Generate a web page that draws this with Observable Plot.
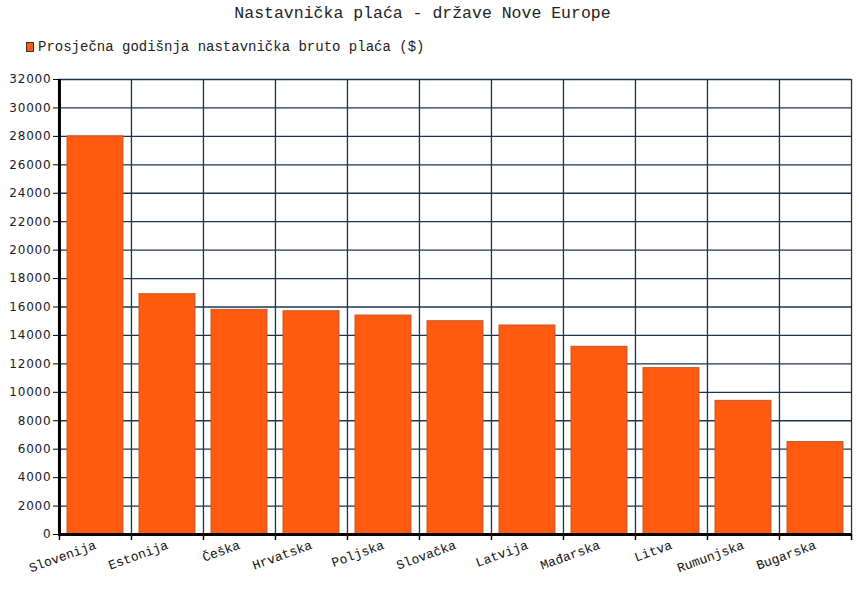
<!DOCTYPE html>
<html>
<head>
<meta charset="utf-8">
<script src="https://cdn.jsdelivr.net/npm/d3@7"></script>
<script src="https://cdn.jsdelivr.net/npm/@observablehq/plot@0.6"></script>
<style>
  html, body { margin: 0; padding: 0; background: #fff; }
  body { width: 859px; height: 589px; position: relative; overflow: hidden; }
  #title { position: absolute; left: 0; top: 4px; width: 845px; text-align: center;
    font-family: "Liberation Mono", monospace; font-size: 16.5px; color: #222; }
  #legend { position: absolute; left: 26px; top: 39px; font-family: "Liberation Mono", monospace;
    font-size: 14px; color: #222; display: flex; align-items: center; }
  #legend .sw { width: 6px; height: 8px; background: #ff5a0f; border: 1px solid #333; margin-right: 4px; }
  #chart { position: absolute; left: 0; top: 60px; }
  #chart g[aria-label="y-axis tick label"] text { letter-spacing: 0.8px; }
</style>
</head>
<body>
<div id="title"></div>
<div id="legend"><span class="sw"></span><span id="legtext"></span></div>
<div id="chart"></div>
<script>
const title = "Nastavnička plaća - države Nove Europe";
const seriesName = "Prosječna godišnja nastavnička bruto plaća ($)";
const countries = ["Slovenija", "Estonija", "Češka", "Hrvatska", "Poljska", "Slovačka", "Latvija", "Mađarska", "Litva", "Rumunjska", "Bugarska"];
const salaries = [28000, 16900, 15800, 15700, 15400, 15000, 14700, 13200, 11700, 9400, 6500];
const yTicks = [0, 2000, 4000, 6000, 8000, 10000, 12000, 14000, 16000, 18000, 20000, 22000, 24000, 26000, 28000, 30000, 32000];

document.getElementById("title").textContent = title;
document.getElementById("legtext").textContent = seriesName;

const data = countries.map((c, i) => ({country: c, value: salaries[i]}));

const W = 859, H = 529, mL = 58, mR = 8, mT = 19, mB = 55;
const bw = (W - mL - mR) / countries.length;
const grid = "#1b3550";

const chart = Plot.plot({
  width: W, height: H,
  marginLeft: mL, marginRight: mR, marginTop: mT, marginBottom: mB,
  style: {background: "transparent", overflow: "visible"},
  x: {type: "band", domain: countries, padding: 0},
  y: {domain: [0, 32000]},
  marks: [
    Plot.gridY(yTicks, {stroke: grid, strokeOpacity: 1, strokeWidth: 1.3}),
    Plot.ruleX(countries, {x: d => d, dx: -bw / 2, stroke: grid, strokeWidth: 1.3}),
    Plot.ruleX([countries[countries.length - 1]], {x: d => d, dx: bw / 2, stroke: grid, strokeWidth: 1.3}),
    Plot.barY(data, {x: "country", y: "value", fill: "#ff5a0f", stroke: "#c0582a", strokeWidth: 1, insetLeft: 8, insetRight: 8}),
    Plot.ruleX(countries, {x: d => d, dx: -bw / 2, y1: 0, y2: 0, insetBottom: -6, stroke: "#000", strokeWidth: 1.5}),
    Plot.ruleX([countries[countries.length - 1]], {x: d => d, dx: bw / 2, y1: 0, y2: 0, insetBottom: -6, stroke: "#000", strokeWidth: 1.5}),
    Plot.ruleY([0], {stroke: "#000", strokeWidth: 3}),
    Plot.ruleX([countries[0]], {x: d => d, dx: -bw / 2, stroke: "#000", strokeWidth: 3}),
    Plot.axisY({ticks: yTicks, tickFormat: d3.format("d"), tickSize: 5, tickPadding: 2, stroke: "#000",
      fontSize: 12, fontFamily: "DejaVu Sans", fill: "#1a1a2a", label: null}),
    Plot.axisX({tickSize: 0, tickRotate: -20, tickPadding: 10, fontSize: 13, fontFamily: "Liberation Mono", fill: "#111", label: null})
  ]
});
document.getElementById("chart").appendChild(chart);
</script>
</body>
</html>
